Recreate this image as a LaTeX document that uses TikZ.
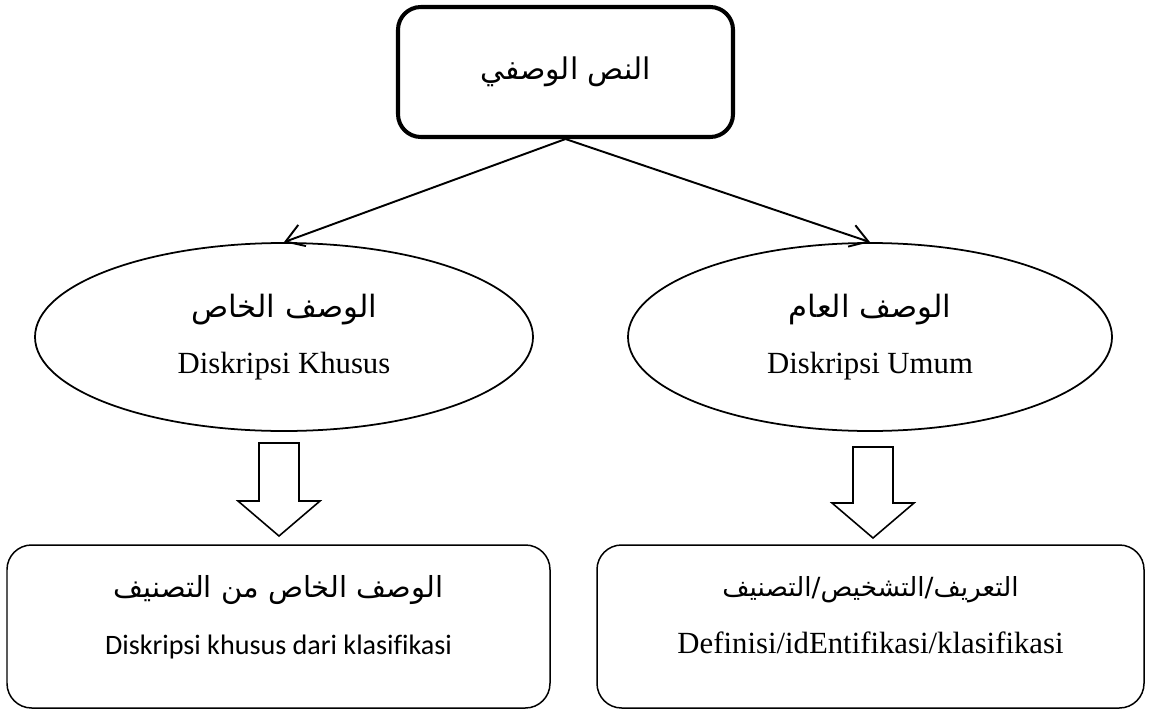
\documentclass[tikz,border=0pt]{standalone}
\usepackage{fontspec}
\setmainfont{Liberation Serif}
\newfontfamily\arabicfont[Script=Arabic]{DejaVu Sans}
\newfontfamily\carlito[Ligatures=NoCommon]{Carlito}
\TeXXeTstate=1
\usetikzlibrary{shapes.geometric, arrows.meta, positioning}
\newcommand{\arab}[1]{{\arabicfont\beginR #1\endR}}

\begin{document}
\begin{tikzpicture}[
    topbox/.style={rectangle, draw, line width=2.3pt, rounded corners=13pt, minimum width=6.7cm, minimum height=2.6cm, align=center, font=\fontsize{17}{20}\selectfont},
    oval/.style={ellipse, draw, line width=1pt, minimum height=3.76cm, inner sep=0pt, align=center, font=\fontsize{17.5}{21}\selectfont},
    endbox/.style={rectangle, draw, line width=0.85pt, rounded corners=14pt, minimum height=3.26cm, align=center, font=\fontsize{17.5}{21}\selectfont},
    blockarrow/.style={draw, line width=0.9pt, line join=miter},
    arrow/.style={-{Straight Barb[length=3.5mm, width=4.5mm]}, line width=1.1pt}
]
    \useasboundingbox (0,0) rectangle (22.98,14.22);

    \node[topbox] (teks) at (11.31,12.78) {\arab{النص الوصفي}};
    \node[oval, minimum width=9.96cm] (khusus) at (5.68,7.48) {\arab{الوصف الخاص}\\[11pt] Diskripsi Khusus};
    \node[oval, minimum width=9.68cm] (umum) at (17.4,7.48) {\arab{الوصف العام}\\[11pt] Diskripsi Umum};
    \node[endbox, minimum width=10.86cm] (klasifikasi) at (5.57,1.69) {{\fontsize{16.5}{21}\selectfont\arab{الوصف الخاص من التصنيف}}\\[11pt] {\carlito\fontsize{16}{21}\selectfont Diskripsi khusus dari klasifikasi}\\[-8pt] \mbox{}};
    \node[endbox, minimum width=10.94cm] (definisi) at (17.41,1.69) {{\fontsize{15}{21}\selectfont\arab{التعريف/التشخيص/التصنيف}}\\[11pt] Definisi/idEntifikasi/klasifikasi\\[-8pt] \mbox{}};

    % block arrows between the ovals and the boxes
    \coordinate (panahkhusus) at (5.58,5.36);
    \coordinate (panahumum) at (17.46,5.28);
    \foreach \p/\s in {panahkhusus/1.16, panahumum/1.12}
        \draw[blockarrow] (\p) ++(-0.4,0) -- ++(0,-\s) -- ++(-0.42,0) -- ++(0.82,-0.7)
            -- ++(0.82,0.7) -- ++(-0.42,0) -- ++(0,\s) -- cycle;

    \draw[arrow] (teks.south) -- (khusus.north);
    \draw[arrow] (teks.south) -- (umum.north);
\end{tikzpicture}
\end{document}
